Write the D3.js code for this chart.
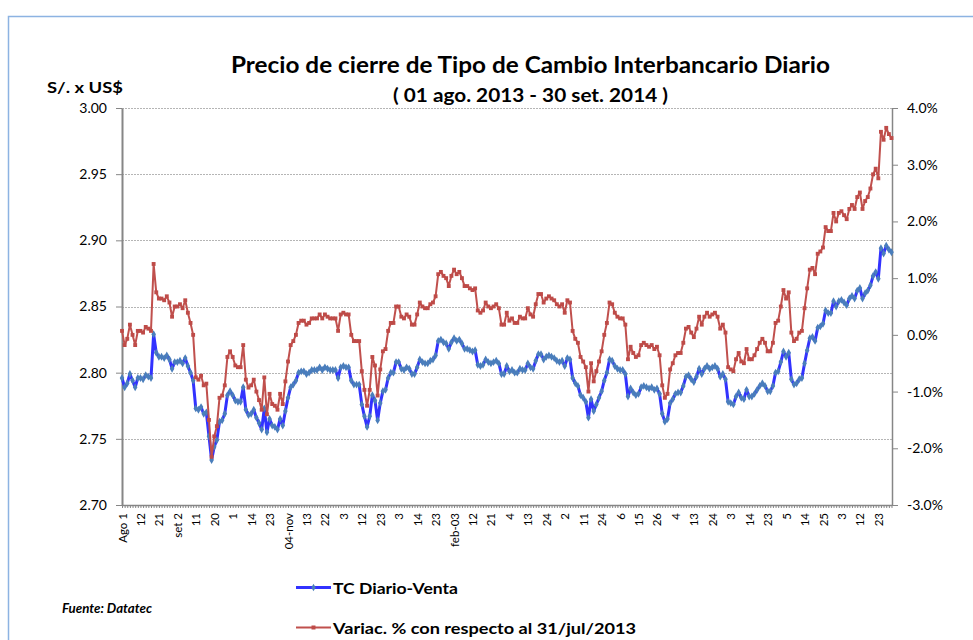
<!DOCTYPE html>
<meta charset="utf-8">
<style>
body { margin: 0; background: #fff; }
text { font-family: Lato, "Open Sans", sans-serif; fill: #000; }
.axis path, .axis line { stroke: #868686; }
.grid line { stroke: #b5b5b5; stroke-dasharray: 2,1; }
</style>
<body>
<svg width="973" height="640"></svg>
<script src="https://cdnjs.cloudflare.com/ajax/libs/d3/7.8.5/d3.min.js"></script>
<script>

// TC Diario-Venta (S/. x US$), one value per business day, 01 ago 2013 - 30 set 2014
var tcVenta = [
  2.796, 2.789, 2.792, 2.799, 2.794, 2.789, 2.796, 2.796, 2.795, 2.798,
  2.797, 2.796, 2.829, 2.815, 2.812, 2.812, 2.811, 2.813, 2.810, 2.803,
  2.808, 2.808, 2.809, 2.807, 2.811, 2.805, 2.800, 2.794, 2.773, 2.772,
  2.774, 2.769, 2.770, 2.752, 2.734, 2.744, 2.749, 2.763, 2.764, 2.769,
  2.783, 2.786, 2.783, 2.779, 2.778, 2.778, 2.789, 2.772, 2.768,
  2.769, 2.772, 2.766, 2.762, 2.757, 2.773, 2.755, 2.765, 2.760, 2.759,
  2.757, 2.765, 2.760, 2.771, 2.781, 2.789, 2.791, 2.794, 2.800, 2.801,
  2.801, 2.799, 2.800, 2.802, 2.802, 2.802, 2.804, 2.802, 2.804, 2.803,
  2.802, 2.802, 2.802, 2.796, 2.804, 2.805, 2.804, 2.804, 2.794, 2.791,
  2.791, 2.791, 2.776, 2.767, 2.759, 2.767, 2.783, 2.779, 2.764, 2.777,
  2.786, 2.787, 2.796, 2.800, 2.800, 2.808, 2.808, 2.803, 2.802, 2.804,
  2.803, 2.799, 2.799, 2.804, 2.810, 2.808, 2.807, 2.807, 2.809, 2.810,
  2.813, 2.824, 2.825, 2.823, 2.822, 2.818, 2.823, 2.826, 2.824, 2.825,
  2.822, 2.818, 2.818, 2.817, 2.816, 2.817, 2.806, 2.805, 2.806, 2.810,
  2.808, 2.807, 2.808, 2.809, 2.807, 2.799, 2.799, 2.805, 2.801,
  2.802, 2.800, 2.800, 2.803, 2.802, 2.802, 2.807, 2.804, 2.803, 2.809,
  2.814, 2.814, 2.810, 2.812, 2.813, 2.812, 2.811, 2.809, 2.808, 2.809,
  2.805, 2.811, 2.810, 2.796, 2.792, 2.790, 2.783, 2.781, 2.778, 2.766,
  2.780, 2.771, 2.776, 2.781, 2.786, 2.794, 2.800, 2.810, 2.809, 2.805,
  2.803, 2.802, 2.802, 2.799, 2.782, 2.788, 2.785, 2.783,
  2.784, 2.789, 2.790, 2.789, 2.788, 2.789, 2.787, 2.788, 2.784, 2.769,
  2.763, 2.765, 2.777, 2.780, 2.784, 2.785, 2.785, 2.790, 2.797, 2.798,
  2.795, 2.793, 2.797, 2.803, 2.799, 2.803, 2.805, 2.803, 2.804, 2.805,
  2.803, 2.797, 2.799, 2.795, 2.778, 2.777, 2.776, 2.782, 2.785, 2.781,
  2.780, 2.787, 2.782, 2.782, 2.784, 2.787, 2.790, 2.792, 2.790,
  2.786, 2.786, 2.790, 2.800, 2.801, 2.808, 2.816, 2.812, 2.815, 2.795,
  2.791, 2.792, 2.795, 2.796, 2.807, 2.817, 2.826, 2.827, 2.824, 2.834,
  2.835, 2.837, 2.847, 2.845, 2.845, 2.854, 2.850, 2.854, 2.855, 2.853,
  2.851, 2.856, 2.858, 2.856, 2.862, 2.864, 2.856, 2.860, 2.862, 2.866,
  2.873, 2.876, 2.871, 2.894, 2.890, 2.896, 2.893, 2.891
];

// Variac. % con respecto al 31/jul/2013
var variacion = [
  0.07, -0.18, -0.07, 0.18, 0.00, -0.18, 0.07, 0.07, 0.04, 0.14,
  0.11, 0.07, 1.25, 0.75, 0.64, 0.64, 0.61, 0.68, 0.57, 0.32,
  0.50, 0.50, 0.54, 0.47, 0.61, 0.39, 0.21, 0.00, -0.75, -0.79,
  -0.72, -0.89, -0.86, -1.50, -2.15, -1.79, -1.61, -1.11, -1.07, -0.89,
  -0.39, -0.29, -0.39, -0.54, -0.57, -0.57, -0.18, -0.79, -0.93,
  -0.89, -0.79, -1.00, -1.15, -1.32, -0.75, -1.40, -1.04, -1.22, -1.25,
  -1.32, -1.04, -1.22, -0.82, -0.47, -0.18, -0.11, 0.00, 0.21, 0.25,
  0.25, 0.18, 0.21, 0.29, 0.29, 0.29, 0.36, 0.29, 0.36, 0.32,
  0.29, 0.29, 0.29, 0.07, 0.36, 0.39, 0.36, 0.36, 0.00, -0.11,
  -0.11, -0.11, -0.64, -0.97, -1.25, -0.97, -0.39, -0.54, -1.07, -0.61,
  -0.29, -0.25, 0.07, 0.21, 0.21, 0.50, 0.50, 0.32, 0.29, 0.36,
  0.32, 0.18, 0.18, 0.36, 0.57, 0.50, 0.47, 0.47, 0.54, 0.57,
  0.68, 1.07, 1.11, 1.04, 1.00, 0.86, 1.04, 1.15, 1.07, 1.11,
  1.00, 0.86, 0.86, 0.82, 0.79, 0.82, 0.43, 0.39, 0.43, 0.57,
  0.50, 0.47, 0.50, 0.54, 0.47, 0.18, 0.18, 0.39, 0.25,
  0.29, 0.21, 0.21, 0.32, 0.29, 0.29, 0.47, 0.36, 0.32, 0.54,
  0.72, 0.72, 0.57, 0.64, 0.68, 0.64, 0.61, 0.54, 0.50, 0.54,
  0.39, 0.61, 0.57, 0.07, -0.07, -0.14, -0.39, -0.47, -0.57, -1.00,
  -0.50, -0.82, -0.64, -0.47, -0.29, 0.00, 0.21, 0.57, 0.54, 0.39,
  0.32, 0.29, 0.29, 0.18, -0.43, -0.21, -0.32, -0.39,
  -0.36, -0.18, -0.14, -0.18, -0.21, -0.18, -0.25, -0.21, -0.36, -0.89,
  -1.11, -1.04, -0.61, -0.50, -0.36, -0.32, -0.32, -0.14, 0.11, 0.14,
  0.04, -0.04, 0.11, 0.32, 0.18, 0.32, 0.39, 0.32, 0.36, 0.39,
  0.32, 0.11, 0.18, 0.04, -0.57, -0.61, -0.64, -0.43, -0.32, -0.47,
  -0.50, -0.25, -0.43, -0.43, -0.36, -0.25, -0.14, -0.07, -0.14,
  -0.29, -0.29, -0.14, 0.21, 0.25, 0.50, 0.79, 0.64, 0.75, 0.04,
  -0.11, -0.07, 0.04, 0.07, 0.47, 0.82, 1.15, 1.18, 1.07, 1.43,
  1.47, 1.54, 1.90, 1.83, 1.83, 2.15, 2.00, 2.15, 2.18, 2.11,
  2.04, 2.22, 2.29, 2.22, 2.43, 2.51, 2.22, 2.36, 2.43, 2.58,
  2.83, 2.93, 2.76, 3.58, 3.44, 3.65, 3.54, 3.47
];

// category labels, one every 7 business days
var tickLabels = ["Ago 1", "12", "21", "set 2", "11", "20", "1", "14", "23", "04-nov",
  "13", "22", "3", "12", "23", "3", "14", "23", "feb-03", "12",
  "21", "4", "13", "24", "2", "11", "24", "6", "15", "26",
  "4", "13", "24", "3", "14", "23", "5", "14", "25", "3", "12", "23"];
var labelStep = 7;

var leftTicks = [2.70, 2.75, 2.80, 2.85, 2.90, 2.95, 3.00];
var rightTicks = [-3, -2, -1, 0, 1, 2, 3, 4];

var svg = d3.select("svg");
var plotLeft = 122, plotRight = 892, plotTop = 108, plotBottom = 505;

// outer frame
svg.append("rect")
    .attr("x", 8.5).attr("y", 16.5)
    .attr("width", 1000).attr("height", 700)
    .attr("fill", "none")
    .attr("stroke", "#8db3e2")
    .attr("stroke-width", 1.5);

var x = d3.scalePoint()
    .domain(d3.range(tcVenta.length))
    .range([plotLeft, plotRight - 0.5]);
var y = d3.scaleLinear().domain([2.70, 3.00]).range([plotBottom, plotTop]);
var y2 = d3.scaleLinear().domain([-3, 4]).range([plotBottom, plotTop]);

// gridlines
svg.append("g").attr("class", "grid")
  .selectAll("line")
  .data(leftTicks.slice(1))
  .enter().append("line")
    .attr("x1", plotLeft).attr("x2", plotRight)
    .attr("y1", function(d) { return Math.round(y(d)) + 0.5; })
    .attr("y2", function(d) { return Math.round(y(d)) + 0.5; });

// axes
var xAxis = d3.axisBottom(x)
    .tickValues(x.domain())
    .tickSize(3)
    .tickSizeOuter(0)
    .tickFormat(function(i) { return i % labelStep === 0 ? tickLabels[i / labelStep] : ""; });

var gx = svg.append("g")
    .attr("class", "axis")
    .attr("transform", "translate(0," + plotBottom + ")")
    .call(xAxis);
gx.select(".domain").attr("d", "M" + plotLeft + ",0.5H" + plotRight).style("stroke-width", 1.5);
gx.selectAll("text")
    .attr("transform", "rotate(-90)")
    .attr("x", -8)
    .attr("y", 0)
    .attr("dy", "0.35em")
    .style("text-anchor", "end")
    .style("font-size", "11.5px");

var gy = svg.append("g")
    .attr("class", "axis")
    .attr("transform", "translate(" + plotLeft + ",0)")
    .call(d3.axisLeft(y).tickValues(leftTicks).tickSize(6).tickSizeOuter(0).tickPadding(9)
      .tickFormat(d3.format(".2f")));
gy.select(".domain").style("stroke-width", 2);
gy.selectAll("text").style("font-size", "14px");

var gy2 = svg.append("g")
    .attr("class", "axis")
    .attr("transform", "translate(" + plotRight + ",0)")
    .call(d3.axisRight(y2).tickValues(rightTicks).tickSize(6).tickSizeOuter(0).tickPadding(9)
      .tickFormat(function(d) { return d.toFixed(1) + "%"; }));
gy2.select(".domain").style("stroke-width", 1.5);
gy2.selectAll("text").style("font-size", "14px");

// series: TC Diario-Venta (left axis)
var lineTc = d3.line()
    .x(function(d, i) { return x(i); })
    .y(function(d) { return y(d); });

svg.append("path")
    .datum(tcVenta)
    .attr("fill", "none")
    .attr("stroke", "#3232ff")
    .attr("stroke-width", 3)
    .attr("stroke-linejoin", "round")
    .attr("d", lineTc);

svg.append("g")
  .selectAll("path")
  .data(tcVenta)
  .enter().append("path")
    .attr("d", d3.symbol().type(d3.symbolDiamond).size(18))
    .attr("fill", "#4a7ebb")
    .attr("transform", function(d, i) { return "translate(" + x(i) + "," + y(d) + ")"; });

// series: variacion % (right axis)
var lineVar = d3.line()
    .x(function(d, i) { return x(i); })
    .y(function(d) { return y2(d); });

svg.append("path")
    .datum(variacion)
    .attr("fill", "none")
    .attr("stroke", "#c0504d")
    .attr("stroke-width", 2)
    .attr("stroke-linejoin", "round")
    .attr("d", lineVar);

svg.append("g")
  .selectAll("path")
  .data(variacion)
  .enter().append("path")
    .attr("d", d3.symbol().type(d3.symbolSquare).size(15))
    .attr("fill", "#be4b48")
    .attr("transform", function(d, i) { return "translate(" + x(i) + "," + y2(d) + ")"; });

// titles
svg.append("text")
    .attr("x", 530.5).attr("y", 73)
    .attr("text-anchor", "middle")
    .attr("textLength", 599).attr("lengthAdjust", "spacingAndGlyphs")
    .style("font-size", "22px").style("font-weight", "bold")
    .text("Precio de cierre de Tipo de Cambio Interbancario Diario");

svg.append("text")
    .attr("x", 530.5).attr("y", 102)
    .attr("text-anchor", "middle")
    .attr("textLength", 275).attr("lengthAdjust", "spacingAndGlyphs")
    .style("font-size", "18px").style("font-weight", "bold")
    .text("( 01 ago. 2013 - 30 set. 2014 )");

svg.append("text")
    .attr("x", 47).attr("y", 93)
    .attr("textLength", 76).attr("lengthAdjust", "spacingAndGlyphs")
    .style("font-size", "15px").style("font-weight", "bold")
    .text("S/. x US$");

// legend
var legend = [
  {name: "TC Diario-Venta", color: "#3232ff", marker: "#4a7ebb", symbol: d3.symbolDiamond, width: 3, y: 587.5, len: 125},
  {name: "Variac. % con respecto al 31/jul/2013", color: "#c0504d", marker: "#be4b48", symbol: d3.symbolSquare, width: 2, y: 627.5, len: 303}
];

var lg = svg.append("g").selectAll("g")
    .data(legend)
    .enter().append("g")
    .attr("transform", function(d) { return "translate(296," + d.y + ")"; });

lg.append("line")
    .attr("x1", 0).attr("x2", 35)
    .attr("stroke", function(d) { return d.color; })
    .attr("stroke-width", function(d) { return d.width; });

lg.append("path")
    .attr("d", function(d) { return d3.symbol().type(d.symbol).size(16)(); })
    .attr("transform", "translate(17.5,0)")
    .attr("fill", function(d) { return d.marker; });

lg.append("text")
    .attr("x", 37).attr("y", 6)
    .attr("textLength", function(d) { return d.len; })
    .attr("lengthAdjust", "spacingAndGlyphs")
    .style("font-size", "16px").style("font-weight", "bold")
    .text(function(d) { return d.name; });

svg.append("text")
    .attr("x", 62).attr("y", 613)
    .attr("textLength", 90).attr("lengthAdjust", "spacingAndGlyphs")
    .style("font-size", "13px").style("font-weight", "bold").style("font-style", "italic")
    .text("Fuente: Datatec");

</script>
</body>
</html>
